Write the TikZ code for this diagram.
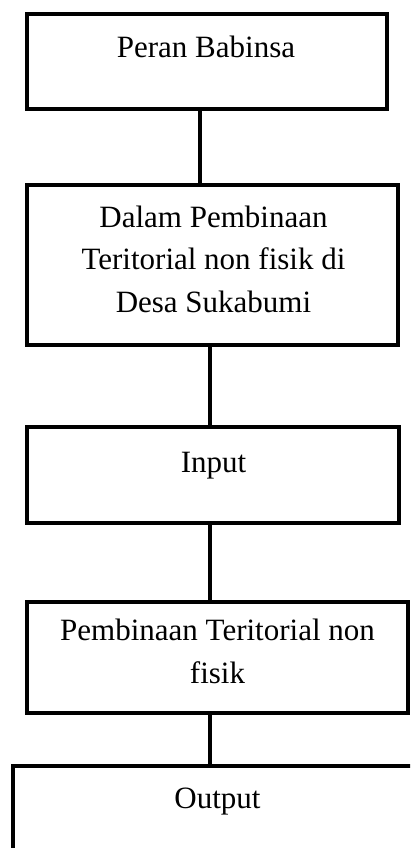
\documentclass[tikz,border=0pt]{standalone}
\usepackage{fontspec}
\setmainfont{Liberation Serif}
\usetikzlibrary{positioning}

\begin{document}
\begin{tikzpicture}[
    x=1pt, y=-1pt,
    box/.style={rectangle, draw, line width=3.2pt, inner sep=0pt},
    lbl/.style={anchor=base, inner sep=0pt, align=center, font=\fontsize{31}{42.5}\selectfont},
    conn/.style={-, line width=3.2pt}
]
    \clip (0,0) rectangle (410,848);
    % Boxes
    \node[box, minimum width=360pt, minimum height=95pt] (b1) at (207,61.5) {};
    \node[box, minimum width=371pt, minimum height=160pt] (b2) at (212.5,265) {};
    \node[box, minimum width=372pt, minimum height=96pt] (b3) at (213,475) {};
    \node[box, minimum width=381pt, minimum height=111pt] (b4) at (217.5,657.5) {};
    \node[box, minimum width=430pt, minimum height=108pt] (b5) at (228,820) {};
    % Labels (base = last line)
    \node[lbl] (t1) at (206,58) {Peran Babinsa};
    \node[lbl] (t2) at (213.5,312) {Dalam Pembinaan\\Teritorial non fisik di\\Desa Sukabumi};
    \node[lbl] (t3) at (213.5,472) {Input};
    \node[lbl] (t4) at (217.5,683) {Pembinaan Teritorial non\\fisik};
    \node[lbl] (t5) at (217.5,808) {Output};
    % Connections
    \draw[conn] ([xshift=-7pt]b1.south) -- ([xshift=-7pt]b1.south |- b2.north);
    \draw[conn] ([xshift=-2.5pt]b2.south) -- ([xshift=-2.5pt]b2.south |- b3.north);
    \draw[conn] ([xshift=-3pt]b3.south) -- ([xshift=-3pt]b3.south |- b4.north);
    \draw[conn] ([xshift=-7.5pt]b4.south) -- ([xshift=-7.5pt]b4.south |- b5.north);
\end{tikzpicture}
\end{document}
